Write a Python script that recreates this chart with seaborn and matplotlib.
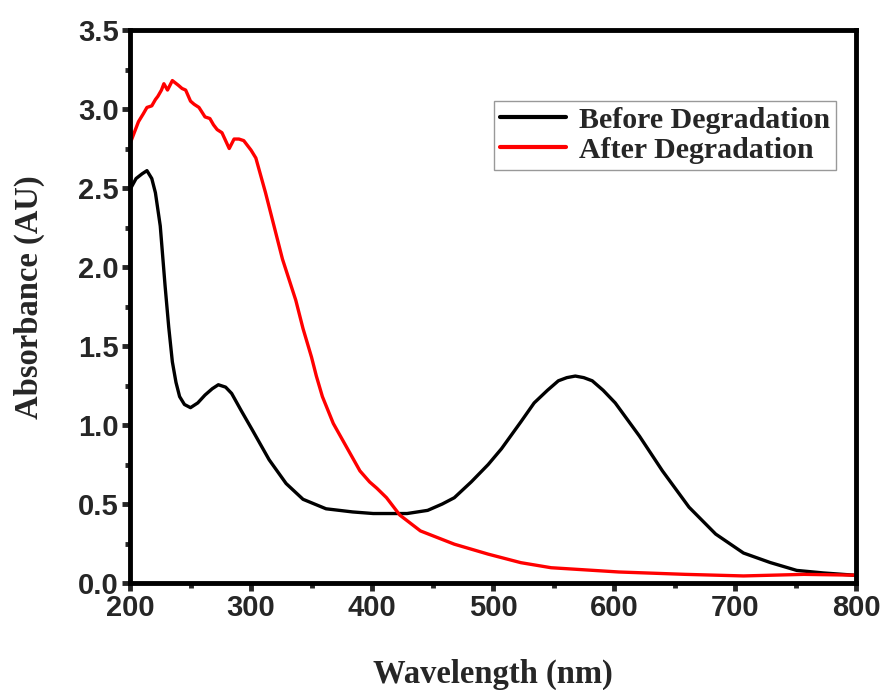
import numpy as np
import pandas as pd
import seaborn as sns
import matplotlib.pyplot as plt
from matplotlib.ticker import MultipleLocator

sns.set_style("ticks")
plt.rcParams['font.family'] = ['Liberation Sans', 'DejaVu Sans']

# Absorbance spectra
wl_before = [200, 205, 210, 214, 218, 221, 225, 229, 232, 235, 238, 241, 245, 250, 256, 262,
             268, 273, 279, 284, 292, 301, 315, 329, 343, 362, 384, 401, 429, 446, 458, 468,
             482, 496, 507, 523, 534, 545, 554, 561, 568, 575, 582, 591, 601, 621, 640, 662,
             684, 707, 729, 751, 773, 798]
abs_before = [2.49, 2.56, 2.59, 2.61, 2.56, 2.47, 2.26, 1.88, 1.62, 1.40, 1.27, 1.18, 1.13, 1.11, 1.14, 1.19,
              1.23, 1.255, 1.24, 1.20, 1.09, 0.97, 0.78, 0.63, 0.53, 0.47, 0.45, 0.44, 0.44, 0.46, 0.50, 0.54,
              0.64, 0.75, 0.85, 1.02, 1.14, 1.22, 1.28, 1.30, 1.31, 1.30, 1.28, 1.22, 1.14, 0.93, 0.71, 0.48,
              0.31, 0.19, 0.13, 0.08, 0.064, 0.05]

wl_after = [200, 204, 207, 211, 214, 218, 221, 223, 226, 228, 231, 233, 235, 240, 243,
            246, 250, 253, 257, 262, 266, 269, 272, 276, 279, 282, 286, 290, 294, 300,
            304, 312, 321, 326, 337, 343, 350, 354, 359, 368, 379, 390, 398, 404, 412,
            423, 440, 468, 496, 523, 548, 604, 659, 707, 757, 798]
abs_after = [2.78, 2.86, 2.92, 2.97, 3.01, 3.02, 3.06, 3.08, 3.12, 3.16, 3.12, 3.15, 3.18, 3.15, 3.13,
             3.12, 3.05, 3.03, 3.01, 2.95, 2.94, 2.90, 2.87, 2.85, 2.80, 2.75, 2.81, 2.81, 2.80, 2.74,
             2.69, 2.47, 2.20, 2.05, 1.79, 1.61, 1.43, 1.31, 1.18, 1.01, 0.86, 0.71, 0.64, 0.60, 0.54,
             0.43, 0.33, 0.246, 0.183, 0.129, 0.097, 0.07, 0.055, 0.045, 0.055, 0.05]

labels = ["Before Degradation", "After Degradation"]
colors = ["black", "red"]

df = pd.concat([
    pd.DataFrame({"wl": wl_before, "A": abs_before, "sample": labels[0]}),
    pd.DataFrame({"wl": wl_after, "A": abs_after, "sample": labels[1]}),
])

fig = plt.figure(figsize=(8.88, 6.9), dpi=100)
ax = fig.add_axes([0.1464, 0.155, 0.8176, 0.8015])
sns.lineplot(data=df, x="wl", y="A", hue="sample", palette=colors, linewidth=2.4,
             sort=False, estimator=None, ax=ax)

ax.set_xlim(200, 800)
ax.set_ylim(0, 3.5)
ax.xaxis.set_major_locator(MultipleLocator(100))
ax.xaxis.set_minor_locator(MultipleLocator(50))
ax.yaxis.set_major_locator(MultipleLocator(0.5))
ax.yaxis.set_minor_locator(MultipleLocator(0.25))
ax.yaxis.set_major_formatter(lambda v, p: f"{v:.1f}")

for s in ax.spines.values():
    s.set_linewidth(3.5)
    s.set_color("black")
ax.tick_params(which="major", direction="out", length=6, width=3.5, pad=2,
               labelsize=21, top=False, right=False)
ax.tick_params(which="minor", direction="out", length=3.5, width=3.5,
               top=False, right=False)
for lab in ax.get_xticklabels() + ax.get_yticklabels():
    lab.set_fontweight("bold")

serif = ['Liberation Serif', 'DejaVu Serif']
ax.set_xlabel("Wavelength (nm)", family=serif, fontweight="bold", fontsize=23.5, labelpad=26)
ax.set_ylabel("Absorbance (AU)", family=serif, fontweight="bold", fontsize=23.5)
ax.yaxis.set_label_coords(-0.117, 0.517)

leg = ax.legend(loc="upper right", bbox_to_anchor=(0.973, 0.872), borderaxespad=0,
                frameon=True, fancybox=False, edgecolor="gray", handlelength=2.2,
                prop={"family": serif, "weight": "bold", "size": 21.5},
                borderpad=0.2, labelspacing=0.1, handletextpad=0.45)
leg.get_frame().set_linewidth(1.0)
for h in leg.get_lines():
    h.set_linewidth(3)

fig.savefig("out.png", dpi=100)
